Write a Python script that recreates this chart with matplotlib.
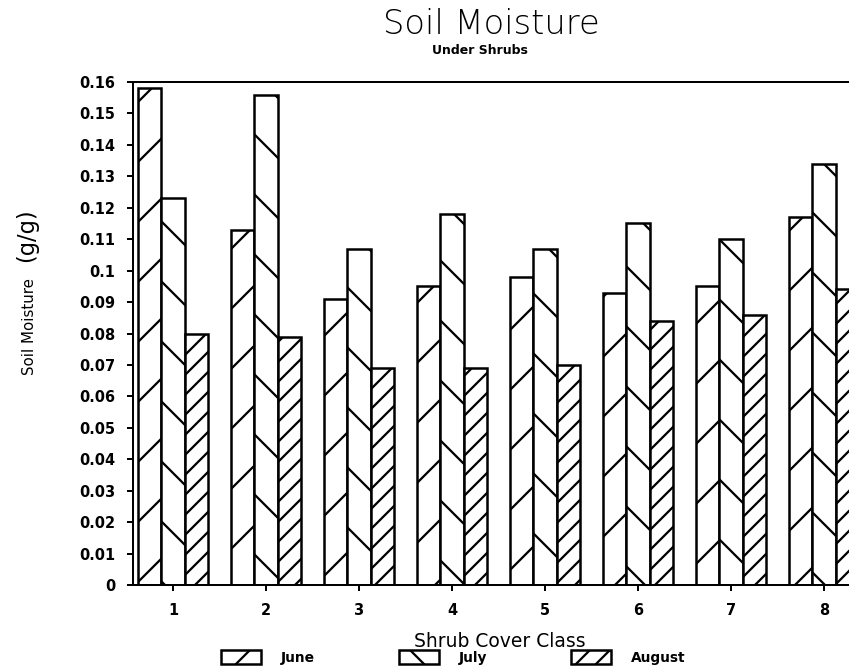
import matplotlib
matplotlib.use("Agg")
import matplotlib.pyplot as plt
import numpy as np

classes = [1, 2, 3, 4, 5, 6, 7, 8]
june = [0.158, 0.113, 0.091, 0.095, 0.098, 0.093, 0.095, 0.117]
july = [0.123, 0.156, 0.107, 0.118, 0.107, 0.115, 0.110, 0.134]
august = [0.080, 0.079, 0.069, 0.069, 0.070, 0.084, 0.086, 0.094]
series_names = ["June", "July", "August"]
ytick_vals = [0, 0.01, 0.02, 0.03, 0.04, 0.05, 0.06, 0.07, 0.08, 0.09, 0.10,
              0.11, 0.12, 0.13, 0.14, 0.15, 0.16]
ytick_labels = ["0", "0.01", "0.02", "0.03", "0.04", "0.05", "0.06", "0.07",
                "0.08", "0.09", "0.1", "0.11", "0.12", "0.13", "0.14", "0.15", "0.16"]

DPI = 180
plt.rcParams["font.family"] = ["DejaVu Sans"]
plt.rcParams["hatch.linewidth"] = 0.9
plt.rcParams["hatch.color"] = "black"

fig = plt.figure(figsize=(849 / DPI, 669 / DPI), dpi=DPI)
ax = fig.add_axes([133 / 849, 1 - 585 / 669, 716 / 849, 503 / 669])

x = np.array(classes, dtype=float)
w = 0.25
hatches = ["/", "\\", "///"]
for i, (vals, name, h) in enumerate(zip([june, july, august], series_names, hatches)):
    ax.bar(x + (i - 1) * w, vals, width=w, facecolor="white", edgecolor="black",
           linewidth=1.0, hatch=h, label=name)

ax.set_xlim(0.57, 8.27)
ax.set_ylim(0, 0.16)
ax.set_yticks(ytick_vals)
ax.set_yticklabels(ytick_labels)
ax.set_xticks(classes)
ax.set_xticklabels([str(c) for c in classes])
ax.tick_params(axis="y", direction="out", length=2.2, width=0.8, pad=5,
               labelsize=5.8)
ax.tick_params(axis="x", direction="out", length=2.2, width=0.8, pad=5,
               labelsize=5.8)
for lab in ax.get_xticklabels() + ax.get_yticklabels():
    lab.set_fontweight("bold")
for s in ["left", "bottom", "top"]:
    ax.spines[s].set_linewidth(0.8)
ax.spines["right"].set_visible(False)

ax.set_xlabel("Shrub Cover Class", fontsize=7.5, va="center")
ax.xaxis.set_label_coords(0.513, -0.113)
ax.set_ylabel("Soil Moisture", fontsize=6.0, va="center")
ax.yaxis.set_label_coords(-0.144, 0.513)
ax.text(-0.149, 0.696, "(g/g)", transform=ax.transAxes, rotation=90,
        ha="center", va="center", fontsize=9)

fig.text(491 / 849, 1 - 34 / 669, "Soil Moisture", ha="center", va="baseline",
         fontsize=13.5, fontweight="light")
fig.text(480 / 849, 1 - 50 / 669, "Under Shrubs", ha="center", va="center",
         fontsize=5.0, fontweight="bold")

leg = fig.legend(loc="center", bbox_to_anchor=(0.534, 0.017), ncol=3, frameon=False,
                 prop={"size": 5.5, "weight": "bold"}, handlelength=2.9,
                 handleheight=1.15, handletextpad=1.45, columnspacing=6.1,
                 borderaxespad=0, borderpad=0)

fig.savefig("out.png", dpi=DPI)
